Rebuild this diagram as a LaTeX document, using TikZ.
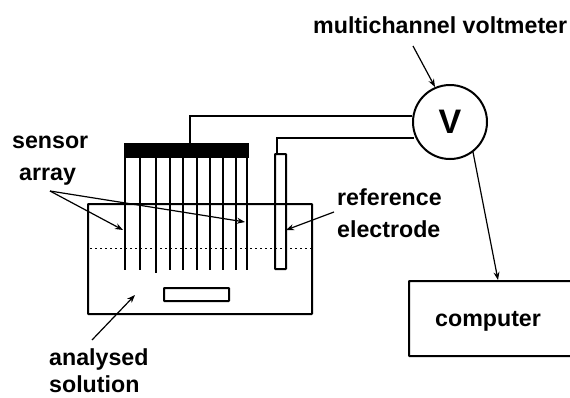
\documentclass[tikz,border=0pt]{standalone}
\usepackage{fontspec}
\setmainfont{Liberation Sans}
\usetikzlibrary{arrows.meta}
\tikzset{
 lbl/.style={font=\fontsize{23.2}{25}\selectfont\bfseries,align=center,inner sep=0pt,text=black},
 ln/.style={line width=1.5pt,black},
 thick line/.style={line width=2pt,black},
 lead/.style={line width=1.2pt,black,-{Stealth[length=8pt,width=6pt]},shorten >=0pt},
 box/.style={draw=black,line width=2pt,fill=none,inner sep=0pt,rectangle,rounded corners=.5pt},
}
\begin{document}
\begin{tikzpicture}[x=1pt,y=-1pt]
\useasboundingbox (0,0) rectangle (570,397);
\clip (0,0) rectangle (570,397);
% vessel
\node[box,minimum width=224pt,minimum height=110pt,anchor=north west] (vessel) at (87,203) {};
\draw[dash pattern=on 2pt off 3pt,line width=.8pt] (90,248) -- (313,248);
\node[box,minimum width=65pt,minimum height=13pt,anchor=north west] (plate) at (163,287) {};
% sensors
\node[fill=black,inner sep=0pt,minimum width=125pt,minimum height=15pt,anchor=north west] (block) at (123.5,143) {};
\foreach \x/\b in {125/270,140/270,156/273,170/270,183/270,197/270,210/270,223/270,236/270,247/270}
  \draw[thick line] (\x,158) -- (\x,\b);
% reference electrode
\node[box,minimum width=11pt,minimum height=115pt,anchor=north west] (ref) at (274,153) {};
% voltmeter
\node[draw=black,line width=2pt,circle,minimum size=74pt,inner sep=0pt,font=\fontsize{34}{36}\selectfont\bfseries] (V) at (450,122) {V};
% computer
\node[box,minimum width=175pt,minimum height=75pt,anchor=north west] (comp) at (408,280) {};
\node[lbl,anchor=base west] (comptxt) at (435,326) {computer};
% wires
\draw[ln] (block.north -| 190,0) |- (V.west |- 0,116);
\draw[ln] (ref.north -| 277,0) |- (414,138);
% labels
\node[lbl,anchor=base west] (mv) at (313,33) {multichannel voltmeter};
\node[lbl,anchor=base west] (sensor) at (12,148) {sensor};
\node[lbl,anchor=base west] (array) at (19,180) {array};
\node[lbl,anchor=base west] (r1) at (337,205) {reference};
\node[lbl,anchor=base west] (r2) at (337,237) {electrode};
\node[lbl,anchor=base west] (a1) at (49,365) {analysed};
\node[lbl,anchor=base west] (a2) at (49,392) {solution};
% leads
\coordinate (apex) at (50,191);
\coordinate (s1) at (123,230);
\coordinate (s2) at (245,222);
\draw[lead] (apex) -- (s1);
\draw[lead] (apex) -- (s2);
\coordinate (rs) at (334,212);
\coordinate (re) at (286,230);
\draw[lead] (rs) -- (re);
\coordinate (as) at (92,340);
\coordinate (ae) at (135,295);
\draw[lead] (as) -- (ae);
\coordinate (ms) at (413,46);
\coordinate (me) at (435,87);
\draw[lead] (ms) -- (me);
\coordinate (vs) at (473,152);
\coordinate (ve) at (498,280);
\draw[lead] (vs) -- (ve);
\end{tikzpicture}
\end{document}
